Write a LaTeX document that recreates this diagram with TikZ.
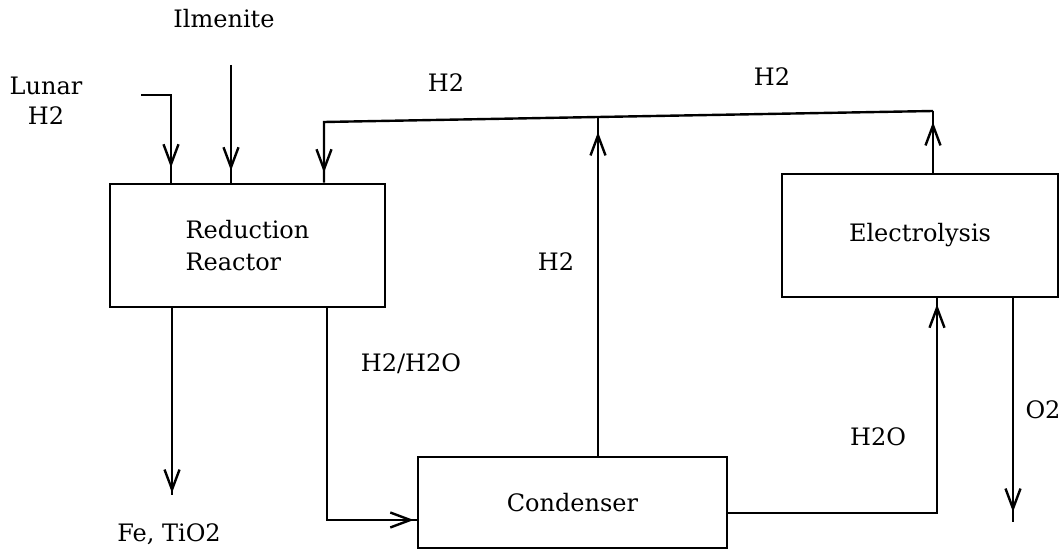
\documentclass[tikz,border=0pt]{standalone}
\usepackage{fontspec}
\setmainfont{DejaVu Serif}
\usetikzlibrary{arrows.meta,decorations.markings}
\begin{document}
\begin{tikzpicture}[x=0.5pt,y=-0.5pt,
  every node/.style={font=\fontsize{12}{15}\selectfont},
  unit/.style={draw, line width=1.3pt, inner sep=0pt},
  flow/.style={line width=1.2pt},
  tipat/.style={postaction={decorate,decoration={markings,mark=at position #1 with {\arrow{Straight Barb[length=10pt,width=7.5pt,line width=1.2pt]}}}}},
  lbl/.style={inner sep=0pt, align=center}]
\useasboundingbox (0,0) rectangle (1064,550);
% units
\node[unit, minimum width=137.5pt, minimum height=61.5pt, align=left, font=\fontsize{12}{16}\selectfont] (reactor) at (247.5,245.5) {Reduction\\Reactor};
\node[unit, minimum width=138pt, minimum height=61.5pt] (elec) at (920,235.5) {Electrolysis};
\node[unit, minimum width=154.5pt, minimum height=45.5pt] (cond) at (572.5,502.5) {Condenser};
% coordinates
\coordinate (lunarin) at (141,95);
\coordinate (ilmin) at (231,65);
\coordinate (rc) at (324,122);
\coordinate (j1) at (598,117);
\coordinate (eh) at (933,111);
\coordinate (feend) at (172,495);
\coordinate (hc) at (327,520);
\coordinate (wc) at (937,513);
\coordinate (o2end) at (1013,522);
% connectors
\draw[flow, tipat=-7.5pt] (lunarin) -| (171,0 |- reactor.north);
\draw[flow, tipat=-6pt] (ilmin) -- (ilmin |- reactor.north);
\draw[flow, tipat=-5pt] (eh) -- (j1) -- (rc) -- (rc |- reactor.north);
\draw[flow, tipat=-5.5pt] (elec.north -| eh) -- (eh);
\draw[flow, tipat=-7.5pt] (cond.north -| j1) -- (j1);
\draw[flow, tipat=-1pt] (reactor.south -| feend) -- (feend);
\draw[flow, tipat=-1.5pt] (reactor.south -| hc) -- (hc) -- (hc -| cond.west);
\draw[flow, tipat=-3pt] (cond.east |- wc) -- (wc) -- (wc |- elec.south);
\draw[flow, tipat=-5pt] (elec.south -| o2end) -- (o2end);
% labels
\node[lbl] (tIlm) at (224,19) {Ilmenite};
\node[lbl] (tLunar) at (46,101) {Lunar\\H2};
\node[lbl] (tH2a) at (446,83) {H2};
\node[lbl] (tH2b) at (772,77) {H2};
\node[lbl] (tH2c) at (556,262) {H2};
\node[lbl] (tH2H2O) at (411,364) {H2/H2O};
\node[lbl] (tFe) at (169,534) {Fe, TiO2};
\node[lbl] (tH2O) at (878,437) {H2O};
\node[lbl] (tO2) at (1043,410) {O2};
\end{tikzpicture}
\end{document}
